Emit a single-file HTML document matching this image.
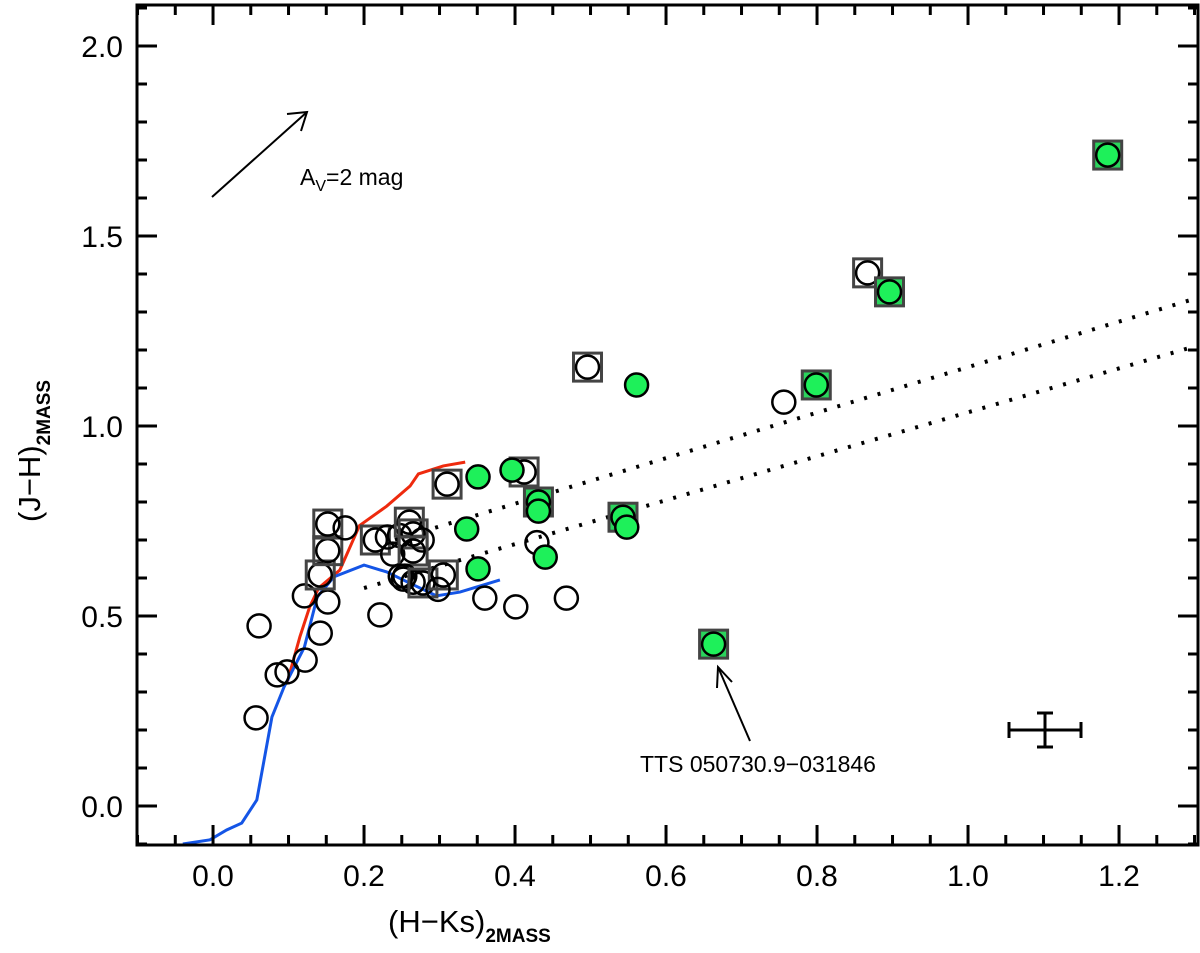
<!DOCTYPE html>
<html><head><meta charset="utf-8"><style>
html,body{margin:0;padding:0;background:#fff;}
svg{display:block;font-family:"Liberation Sans",sans-serif;}
</style></head><body>
<svg id="chart" width="1200" height="953" viewBox="0 0 1200 953" xmlns="http://www.w3.org/2000/svg">
<g id="curves"></g>
<g id="marks"></g>
<g id="axes"></g>
<g>
<line x1="212" y1="197" x2="307" y2="112" stroke="#000" stroke-width="2"/>
<polyline points="287,114 307,112 301,131" fill="none" stroke="#000" stroke-width="2"/>
<text x="300" y="185" font-size="23">A<tspan font-size="16" dy="6">V</tspan><tspan dy="-6">=2 mag</tspan></text>
</g>
<g>
<line x1="750" y1="741" x2="718" y2="667" stroke="#000" stroke-width="2"/>
<polyline points="717,688 718,667 732,682" fill="none" stroke="#000" stroke-width="2"/>
<text x="640" y="772" font-size="23">TTS 050730.9−031846</text>
</g>
<g stroke="#000" stroke-width="3">
<line x1="1009" y1="730" x2="1081" y2="730"/><line x1="1009" y1="722" x2="1009" y2="738"/><line x1="1081" y1="722" x2="1081" y2="738"/>
<line x1="1045" y1="713" x2="1045" y2="747"/><line x1="1037" y1="713" x2="1053" y2="713"/><line x1="1037" y1="747" x2="1053" y2="747"/>
</g>
<text x="388" y="932" font-size="31">(H−Ks)<tspan font-size="19" font-weight="bold" dy="10">2MASS</tspan></text>
<text transform="translate(40,522) rotate(-90)" font-size="31">(J−H)<tspan font-size="19" font-weight="bold" dy="10">2MASS</tspan></text>
</svg>
<script>
const xTicks=[0.0,0.2,0.4,0.6,0.8,1.0,1.2];
const yTicks=[0.0,0.5,1.0,1.5,2.0];
const openX=[0.057,0.061,0.085,0.098,0.122,0.142,0.152,0.121,0.142,0.152,0.152,0.175,0.221,0.215,0.231,0.238,0.247,0.260,0.265,0.277,0.265,0.254,0.248,0.252,0.265,0.278,0.305,0.298,0.310,0.360,0.401,0.468,0.429,0.412,0.496,0.756,0.867];
const openY=[0.232,0.474,0.345,0.353,0.384,0.455,0.537,0.553,0.608,0.672,0.742,0.732,0.503,0.700,0.708,0.663,0.712,0.747,0.716,0.700,0.671,0.605,0.605,0.597,0.589,0.587,0.608,0.570,0.847,0.547,0.524,0.547,0.693,0.879,1.155,1.063,1.403];
const openBox=[0,0,0,0,0,0,0,0,1,1,1,0,0,1,0,0,0,1,1,0,1,0,0,0,0,1,1,0,1,0,0,0,0,1,1,0,1];
const greenX=[0.351,0.336,0.351,0.396,0.431,0.431,0.440,0.543,0.548,0.561,0.663,0.799,0.896,1.185];
const greenY=[0.866,0.729,0.624,0.884,0.800,0.776,0.655,0.760,0.734,1.108,0.426,1.108,1.353,1.713];
const greenBox=[0,0,0,0,1,0,0,1,0,0,1,1,1,1];
const redX=[0.098,0.115,0.128,0.140,0.168,0.194,0.230,0.261,0.272,0.305,0.334];
const redY=[0.324,0.445,0.524,0.574,0.621,0.738,0.789,0.842,0.874,0.895,0.905];
const blueX=[-0.04,-0.004,0.018,0.038,0.058,0.078,0.094,0.121,0.138,0.160,0.200,0.230,0.260,0.296,0.327,0.367,0.380];
const blueY=[-0.1,-0.089,-0.063,-0.045,0.016,0.234,0.313,0.418,0.550,0.603,0.634,0.616,0.587,0.553,0.563,0.587,0.595];
const dotSlopes=[0.599,0.578];
const dotIntercepts=[0.556,0.458];
const dotStart=[0.241,0.2];
const NS="http://www.w3.org/2000/svg";
const L=137,R=1198,T=5,B=845;
const X0=-0.1007,X1=1.3046,Y0=-0.1026,Y1=2.1079;
function sx(v){return L+(v-X0)/(X1-X0)*(R-L);}
function sy(v){return B-(v-Y0)/(Y1-Y0)*(B-T);}
function mk(tag,attrs,parent){const e=document.createElementNS(NS,tag);for(const k in attrs)e.setAttribute(k,attrs[k]);parent.appendChild(e);return e;}
const curves=document.getElementById('curves'),marks=document.getElementById('marks'),axes=document.getElementById('axes');
function poly(xs,ys,color,name){const p=mk('polyline',{points:xs.map((x,i)=>sx(x)+','+sy(ys[i])).join(' '),fill:'none',stroke:color,'stroke-width':3},curves);

}
poly(redX,redY,'#ee2a0e','giant-branch-locus');
poly(blueX,blueY,'#1455e6','dwarf-locus');
dotSlopes.forEach((m,i)=>{const l=mk('line',{x1:sx(dotStart[i]),y1:sy(dotIntercepts[i]+m*dotStart[i]),x2:R,y2:sy(dotIntercepts[i]+m*X1),stroke:'#000','stroke-width':4,'stroke-dasharray':'3,11'},curves);

});
function box(x,y,fill){const r=mk('rect',{x:sx(x)-14,y:sy(y)-14,width:28,height:28,fill:fill,stroke:'#444','stroke-width':3},marks);

}
openX.forEach((x,i)=>{if(openBox[i])box(x,openY[i],'none');
const c=mk('circle',{cx:sx(x),cy:sy(openY[i]),r:11.5,fill:'none',stroke:'#000','stroke-width':2.5},marks);

});
greenX.forEach((x,i)=>{if(greenBox[i])box(x,greenY[i],'#2ad45c');
const c=mk('circle',{cx:sx(x),cy:sy(greenY[i]),r:11.5,fill:'#1ef05a',stroke:'#000','stroke-width':2.5},marks);

});
const fr=mk('rect',{x:L,y:T,width:R-L,height:B-T,fill:'none',stroke:'#000','stroke-width':3},axes);


for(let v=-0.1;v<=1.3001;v+=0.05){const x=sx(v);const major=Math.abs(Math.round(v*10)/10-v)<1e-6&&Math.round(v*10)%2===0;const len=major?20:10;
mk('line',{x1:x,y1:B,x2:x,y2:B-len,stroke:'#000','stroke-width':3},axes);mk('line',{x1:x,y1:T,x2:x,y2:T+len,stroke:'#000','stroke-width':3},axes);}
for(let v=-0.1;v<=2.1001;v+=0.1){const y=sy(v);const major=Math.abs(Math.round(v*2)/2-v)<1e-6;const len=major?20:10;
mk('line',{x1:L,y1:y,x2:L+len,y2:y,stroke:'#000','stroke-width':3},axes);mk('line',{x1:R,y1:y,x2:R-len,y2:y,stroke:'#000','stroke-width':3},axes);}
xTicks.forEach(v=>{const t=mk('text',{x:sx(v),y:886,'font-size':30,'text-anchor':'middle'},axes);t.textContent=v.toFixed(1);

});
yTicks.forEach(v=>{const t=mk('text',{x:123,y:sy(v)+11,'font-size':30,'text-anchor':'end'},axes);t.textContent=v.toFixed(1);

});
</script>
</body></html>
